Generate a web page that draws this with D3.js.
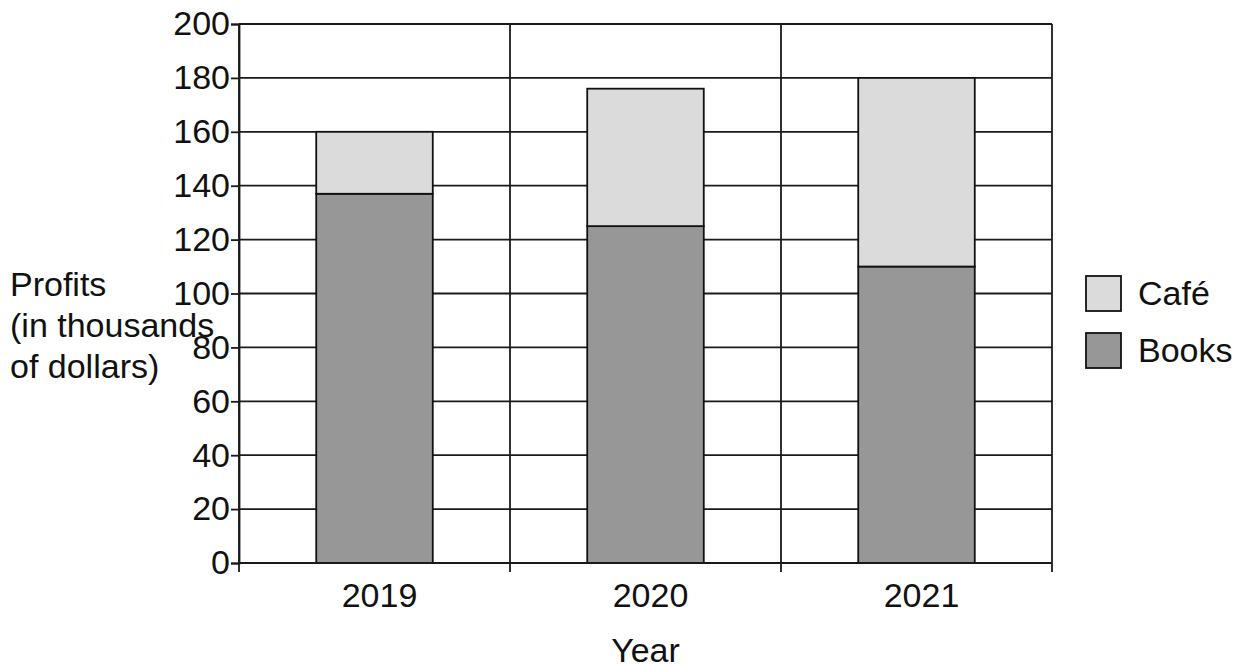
<!DOCTYPE html>
<html>
<head>
<meta charset="utf-8">
<script src="https://cdn.jsdelivr.net/npm/d3@7"></script>
<style>
  body { margin: 0; background: #fff; }
  text { font-family: "Liberation Sans", Arial, sans-serif; fill: #111; }
</style>
</head>
<body>
<svg id="chart" width="1237" height="668"></svg>
<script>
// data
const years = ["2019", "2020", "2021"];
const books = [137, 125, 110];
const cafe = [23, 51, 70];
const yTicks = [0, 20, 40, 60, 80, 100, 120, 140, 160, 180, 200];
const seriesNames = ["Café", "Books"];

const colours = { "Books": "#979797", "Café": "#dbdbdb" };

const svg = d3.select("svg#chart");
const plotLeft = 239, plotRight = 1052, plotTop = 24, plotBottom = 563;
const fontSize = 34;

const x = d3.scaleBand().domain(years).range([plotLeft, plotRight]).padding(0);
const y = d3.scaleLinear().domain([0, 200]).range([plotBottom, plotTop]);
const barW = x.bandwidth() * 0.43;

// grid lines (horizontal)
svg.append("g")
    .selectAll("line")
    .data(yTicks)
    .join("line")
    .attr("x1", plotLeft).attr("x2", plotRight)
    .attr("y1", d => y(d)).attr("y2", d => y(d))
    .attr("stroke", "#1a1a1a").attr("stroke-width", 1.8);

// vertical lines at category boundaries
const bounds = years.map(d => x(d)).concat([plotRight]);
svg.append("g")
    .selectAll("line")
    .data(bounds)
    .join("line")
    .attr("x1", d => d).attr("x2", d => d)
    .attr("y1", plotTop).attr("y2", plotBottom + 9)
    .attr("stroke", "#1a1a1a").attr("stroke-width", 1.8);

// stacked bars
const rows = years.map((yr, i) => ({ year: yr, Books: books[i], "Café": cafe[i] }));
const stacked = d3.stack().keys(["Books", "Café"])(rows);

svg.append("g")
    .selectAll("g")
    .data(stacked)
    .join("g")
    .attr("fill", d => colours[d.key])
    .selectAll("rect")
    .data(d => d)
    .join("rect")
    .attr("x", d => x(d.data.year) + (x.bandwidth() - barW) / 2)
    .attr("width", barW)
    .attr("y", d => y(d[1]))
    .attr("height", d => y(d[0]) - y(d[1]))
    .attr("stroke", "#111")
    .attr("stroke-width", 1.8);

// y axis
const yAxis = svg.append("g")
    .attr("transform", `translate(${plotLeft},0)`)
    .call(d3.axisLeft(y).tickValues(yTicks).tickSize(8).tickPadding(1));
yAxis.select(".domain").attr("stroke", "#1a1a1a").attr("stroke-width", 1.8);
yAxis.selectAll(".tick line").attr("stroke", "#1a1a1a").attr("stroke-width", 1.8);
yAxis.selectAll("text").style("font-size", fontSize + "px").attr("fill", "#111");

// x axis line
svg.append("line")
    .attr("x1", plotLeft).attr("x2", plotRight)
    .attr("y1", plotBottom).attr("y2", plotBottom)
    .attr("stroke", "#1a1a1a").attr("stroke-width", 2.2);

// x labels at band centres
const xAxis = svg.append("g")
    .attr("transform", `translate(0,${plotBottom})`)
    .call(d3.axisBottom(x).tickSize(0).tickPadding(20));
xAxis.select(".domain").remove();
xAxis.selectAll("text").style("font-size", fontSize + "px").attr("dx", 5).attr("fill", "#111");

// axis titles
svg.append("text")
    .attr("x", (plotLeft + plotRight) / 2)
    .attr("y", 662)
    .attr("text-anchor", "middle")
    .style("font-size", fontSize + "px")
    .text("Year");

const yLabel = ["Profits", "(in thousands", "of dollars)"];
svg.append("g")
    .selectAll("text")
    .data(yLabel)
    .join("text")
    .attr("x", 10)
    .attr("y", (d, i) => 296 + i * 41)
    .style("font-size", fontSize + "px")
    .text(d => d);

// legend
const legend = svg.append("g")
    .selectAll("g")
    .data(seriesNames)
    .join("g")
    .attr("transform", (d, i) => `translate(1086,${276 + i * 57})`);
legend.append("rect")
    .attr("width", 35).attr("height", 35)
    .attr("fill", d => colours[d])
    .attr("stroke", "#111").attr("stroke-width", 1.8);
legend.append("text")
    .attr("x", 52).attr("y", 17.5)
    .attr("dy", "0.35em")
    .style("font-size", fontSize + "px")
    .text(d => d);
</script>
</body>
</html>
